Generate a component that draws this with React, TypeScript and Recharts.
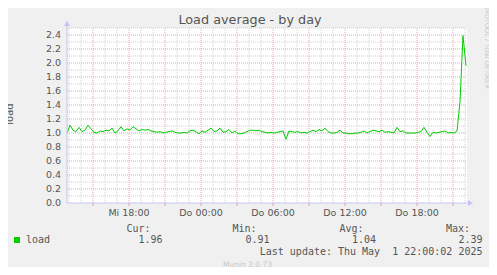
import { CartesianGrid, Line, LineChart, ReferenceDot, ReferenceLine, XAxis, YAxis } from 'recharts';

// load samples, 15 min apart, starting Wed 12:50
const startHour = 12 + 50 / 60;
const stepHours = 0.25;
const endHour = startHour + 400 / 12;

const loadValues = [
  1.0, 1.11, 1.04, 1.02, 1.08, 1.02, 1.04, 1.11, 1.06, 1.01,
  1.0, 1.03, 1.02, 1.04, 1.03, 1.07, 1.0, 1.03, 1.09, 1.03,
  1.06, 1.04, 1.09, 1.06, 1.03, 1.05, 1.04, 1.05, 1.03, 1.02,
  1.01, 1.02, 1.0, 1.01, 1.02, 1.03, 1.01, 1.0, 1.0, 1.01,
  1.0, 1.03, 1.04, 1.02, 0.99, 1.03, 1.01, 1.04, 1.07, 1.02,
  1.03, 1.07, 1.01, 1.02, 1.05, 1.0, 1.03, 0.99, 0.99, 1.0,
  1.02, 1.04, 1.04, 1.03, 1.04, 1.02, 1.01, 1.0, 1.01, 1.0,
  1.01, 1.02, 1.03, 0.91, 1.03, 1.02, 1.01, 1.02, 1.0, 1.01,
  1.0, 1.02, 1.04, 1.02, 1.05, 1.03, 1.07, 1.02, 1.0, 1.0,
  1.01, 1.04, 1.0, 1.0, 0.99, 0.99, 1.0, 1.0, 1.01, 1.03,
  1.0, 1.02, 1.04, 1.03, 1.02, 1.04, 1.01, 1.02, 1.01, 1.0,
  1.08, 1.02, 1.03, 1.0, 1.0, 1.0, 1.0, 1.01, 1.02, 1.08,
  1.01, 0.95, 1.01, 1.0, 1.01, 1.02, 1.03, 1.0, 1.01, 1.0,
  1.03, 1.45, 2.39, 1.96,
];

const xTicks = [15, 18, 21, 24, 27, 30, 33, 36, 39, 42, 45];
const xTickLabels: Record<number, string> = {
  18: 'Mi 18:00',
  24: 'Do 00:00',
  30: 'Do 06:00',
  36: 'Do 12:00',
  42: 'Do 18:00',
};
const yTicks = [0, 0.2, 0.4, 0.6, 0.8, 1.0, 1.2, 1.4, 1.6, 1.8, 2.0, 2.2, 2.4];

const minorY = [0.1, 0.3, 0.5, 0.7, 0.9, 1.1, 1.3, 1.5, 1.7, 1.9, 2.1, 2.3, 2.5];
const minorX: number[] = [];
for (let h = 13; h <= 46; h++) if (h % 3 !== 0) minorX.push(h);

const data = loadValues.map((load, i) => ({ t: startHour + i * stepHours, load }));

const axisColor = '#c4c4f4';
const textColor = '#555';
const gridGray = '#cfcfcf';
const gridRed = '#e8a4a4';
const mono = '"DejaVu Sans Mono", monospace';

const tickStyle = { fill: textColor, fontSize: 9.5, fontFamily: 'DejaVu Sans' };

export default function App() {
  return (
    <div style={{ position: 'relative', width: 497, height: 275, background: '#f0f0f0', margin: -8 }}>
      <LineChart width={497} height={275} data={data} margin={{ top: 28, right: 30, bottom: 42, left: 7 }}>
        <CartesianGrid fill="#fff" horizontal={false} vertical={false} />
        {minorY.map((v) => (
          <ReferenceLine key={`my${v}`} y={v} stroke={gridGray} strokeDasharray="1 1" />
        ))}
        {minorX.map((v) => (
          <ReferenceLine key={`mx${v}`} x={v} stroke={gridGray} strokeDasharray="1 1" />
        ))}
        {yTicks.slice(1).map((v) => (
          <ReferenceLine key={`ry${v}`} y={v} stroke={gridRed} strokeDasharray="1 1" />
        ))}
        {xTicks.map((v) => (
          <ReferenceLine key={`rx${v}`} x={v} stroke={gridRed} strokeDasharray="1 1" />
        ))}
        <XAxis
          dataKey="t"
          type="number"
          domain={[startHour, endHour]}
          allowDataOverflow
          ticks={xTicks}
          interval={0}
          tickFormatter={(v: number) => xTickLabels[v] ?? ''}
          tick={tickStyle}
          tickSize={3}
          tickMargin={3}
          tickLine={{ stroke: gridRed }}
          axisLine={{ stroke: axisColor }}
          height={30}
        />
        <YAxis
          type="number"
          domain={[0, 2.5]}
          ticks={yTicks}
          interval={0}
          tickFormatter={(v: number) => v.toFixed(1)}
          tick={tickStyle}
          tickLine={false}
          tickSize={0}
          tickMargin={6}
          axisLine={{ stroke: axisColor }}
          width={60}
        />
        <Line
          type="linear"
          dataKey="load"
          stroke="#00cc00"
          strokeWidth={1}
          dot={false}
          isAnimationActive={false}
        />
        <ReferenceDot
          x={startHour}
          y={2.5}
          ifOverflow="visible"
          shape={(p: any) => (
            <g>
              <line x1={p.cx} y1={p.cy} x2={p.cx} y2={p.cy - 3} stroke={axisColor} />
              <path d={`M${p.cx - 3},${p.cy - 2}L${p.cx + 3},${p.cy - 2}L${p.cx},${p.cy - 7}Z`} fill={axisColor} />
            </g>
          )}
        />
        <ReferenceDot
          x={endHour}
          y={0}
          ifOverflow="visible"
          shape={(p: any) => (
            <g>
              <line x1={p.cx} y1={p.cy} x2={p.cx + 2} y2={p.cy} stroke={axisColor} />
              <path d={`M${p.cx + 1},${p.cy - 3}L${p.cx + 1},${p.cy + 3}L${p.cx + 6},${p.cy}Z`} fill={axisColor} />
            </g>
          )}
        />
      </LineChart>
      <svg
        width={497}
        height={275}
        style={{ position: 'absolute', left: 0, top: 0, pointerEvents: 'none' }}
      >
        <text x={250} y={24} textAnchor="middle" fontFamily="DejaVu Sans" fontSize={12.8} fill={textColor}>
          Load average - by day
        </text>
        <text
          transform="translate(13,114) rotate(-90)"
          textAnchor="middle"
          fontFamily="DejaVu Sans"
          fontSize={10}
          fill={textColor}
        >
          load
        </text>
        <text
          transform="translate(485,5) rotate(90)"
          textAnchor="start"
          fontFamily="DejaVu Sans"
          fontSize={6.5}
          fill="#c8c8c8"
        >
          RRDTOOL / TOBI OETIKER
        </text>
        <g fontFamily={mono} fontSize={10} fill={textColor}>
          <rect x={14} y={237} width={6} height={6} fill="#00cc00" />
          <text x={26} y={243}>load</text>
          <text x={150.5} y={231.5} textAnchor="end">Cur:</text>
          <text x={162.5} y={243} textAnchor="end">1.96</text>
          <text x={256.5} y={231.5} textAnchor="end">Min:</text>
          <text x={269.5} y={243} textAnchor="end">0.91</text>
          <text x={363.5} y={231.5} textAnchor="end">Avg:</text>
          <text x={376} y={243} textAnchor="end">1.04</text>
          <text x={470} y={231.5} textAnchor="end">Max:</text>
          <text x={482.5} y={243} textAnchor="end">2.39</text>
          <text x={482.5} y={255} textAnchor="end" style={{ whiteSpace: 'pre' }}>
            {'Last update: Thu May  1 22:00:02 2025'}
          </text>
        </g>
        <text x={247.5} y={267} textAnchor="middle" fontFamily="DejaVu Sans" fontSize={7.5} fill="#c8c8c8">
          Munin 2.0.73
        </text>
      </svg>
    </div>
  );
}
